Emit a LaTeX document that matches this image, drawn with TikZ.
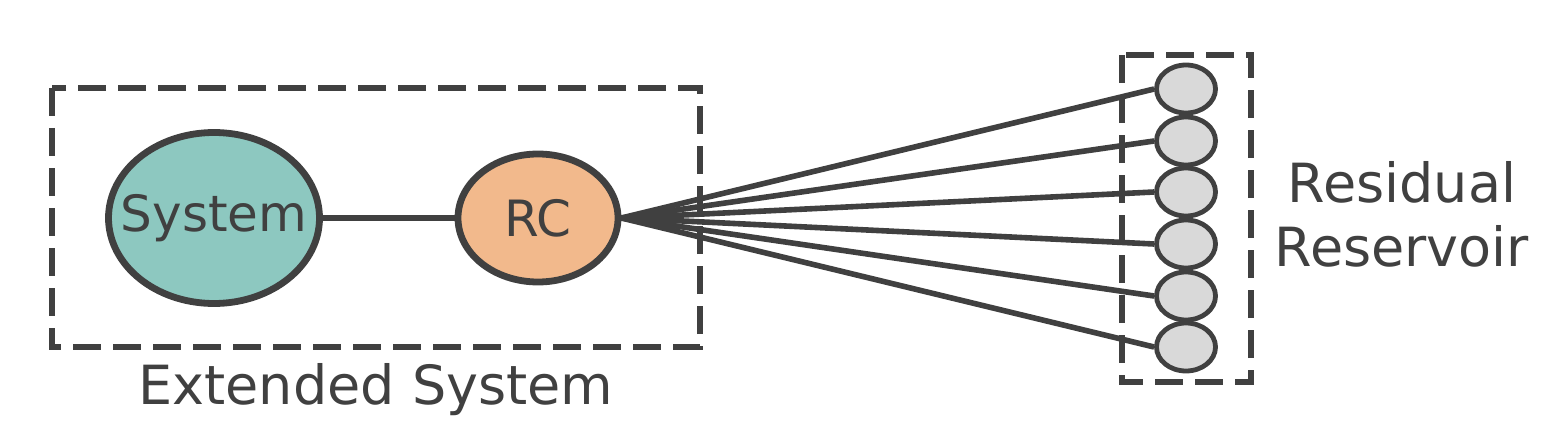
\documentclass[tikz,border=0pt]{standalone}
\usepackage{fontspec}
\setmainfont{DejaVu Sans}
\usetikzlibrary{shapes.geometric}
\definecolor{dk}{HTML}{404040}
\definecolor{tealc}{HTML}{8DC8C0}
\definecolor{orng}{HTML}{F2B98C}
\definecolor{lg}{HTML}{D9D9D9}
\begin{document}
\begin{tikzpicture}[x=0.5pt,y=-0.5pt,
  lbl/.style={font=\fontsize{27}{32}\selectfont,text=dk},
  inlbl/.style={font=\fontsize{25}{30}\selectfont,text=dk},
  bigell/.style={ellipse,draw=dk,line width=3.4pt,inner sep=0pt},
  res/.style={ellipse,draw=dk,fill=lg,line width=2.4pt,minimum width=29.5pt,minimum height=24pt,inner sep=0pt},
  dbox/.style={draw=dk,line width=3.2pt,dash pattern=on 14pt off 6pt},
  conn/.style={draw=dk,line width=2.8pt}]
\useasboundingbox (0,0) rectangle (1546,444);
\draw[dbox] (52,88) rectangle (700,347);
\draw[dbox] (1122,55) rectangle (1251,382);
\node[bigell,fill=tealc,minimum width=105.5pt,minimum height=85.5pt,label={[inlbl]center:System}] (sys) at (214,218) {};
\node[bigell,fill=orng,minimum width=80pt,minimum height=64pt,label={[inlbl]center:RC}] (rc) at (538,218) {};
\draw[conn] (sys) -- (rc);
\foreach \i/\y in {1/89,2/141,3/192,4/244,5/296,6/347}{
  \node[res] (r\i) at (1186,\y) {};
}
\foreach \i in {1,...,6}{
  \draw[conn] (rc.east) -- (r\i.west);
}
\node[lbl,align=center] (rr) at (1402,214) {Residual\\Reservoir};
\node[lbl] (ext) at (376,390) {Extended System};
\end{tikzpicture}
\end{document}
